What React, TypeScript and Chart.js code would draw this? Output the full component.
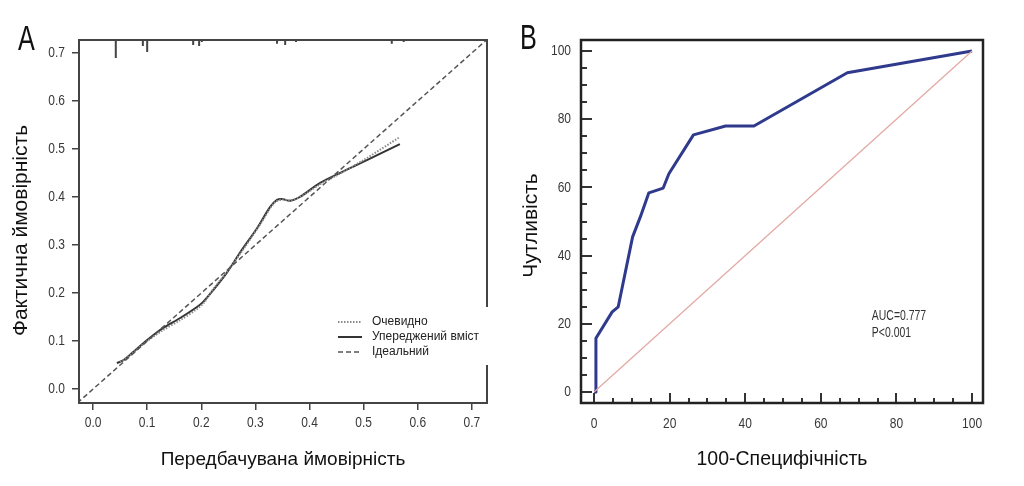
import React, { useEffect, useRef } from "react";
import { Chart, registerables } from "chart.js";

Chart.register(...registerables);

// ---------- Panel A: calibration ----------
const calibTicks = [0, 0.1, 0.2, 0.3, 0.4, 0.5, 0.6, 0.7];
const idealX = [-0.04, 0.74];
const idealY = [-0.04, 0.74];
const apparentX = [0.05, 0.07, 0.1, 0.13, 0.16, 0.19, 0.205, 0.22, 0.25, 0.28, 0.31, 0.335, 0.35, 0.365, 0.39, 0.42, 0.45, 0.5, 0.567];
const apparentY = [0.056, 0.072, 0.1, 0.123, 0.143, 0.165, 0.18, 0.205, 0.248, 0.295, 0.345, 0.388, 0.395, 0.393, 0.405, 0.427, 0.445, 0.477, 0.525];
const correctedX = [0.044, 0.056, 0.068, 0.1, 0.129, 0.161, 0.192, 0.203, 0.222, 0.247, 0.272, 0.303, 0.327, 0.34, 0.349, 0.364, 0.382, 0.419, 0.475, 0.506, 0.567];
const correctedY = [0.054, 0.06, 0.071, 0.102, 0.127, 0.148, 0.171, 0.181, 0.206, 0.242, 0.285, 0.335, 0.379, 0.394, 0.396, 0.392, 0.4, 0.429, 0.46, 0.477, 0.51];
const rugX = [0.042, 0.092, 0.1, 0.185, 0.196, 0.201, 0.34, 0.355, 0.375, 0.552, 0.574];
const rugHeight = [0.0375, 0.0125, 0.025, 0.0104, 0.0125, 0.004, 0.008, 0.0104, 0.004, 0.008, 0.004];
const calibLegend = ["Очевидно", "Упереджений вміст", "Ідеальний"];
const calibTitles = ["Передбачувана ймовірність", "Фактична ймовірність"];

// ---------- Panel B: ROC ----------
const rocTicks = [0, 5, 10, 15, 20, 25, 30, 35, 40, 45, 50, 55, 60, 65, 70, 75, 80, 85, 90, 95, 100];
const rocFpr = [0, 0.4, 0.5, 4.8, 6.4, 10.2, 12.3, 14.5, 18.3, 19.8, 26.3, 34.8, 42.3, 67, 100];
const rocTpr = [0, 0, 15.8, 23.5, 25, 45.5, 51.5, 58.4, 59.8, 64, 75.4, 78, 78, 93.6, 100];
const refX = [0, 100];
const refY = [0, 100];
const aucText = ["AUC=0.777", "P<0.001"];
const rocTitles = ["100-Специфічність", "Чутливість"];

const SANS = "'Liberation Sans', Arial, sans-serif";

const zip = (xs: number[], ys: number[]) => xs.map((x, i) => ({ x, y: ys[i] }));

function narrowText(ctx: CanvasRenderingContext2D, text: string, x: number, y: number, align: CanvasTextAlign, size: number, color: string, sx = 0.8) {
  ctx.save();
  ctx.translate(x, y);
  ctx.scale(sx, 1);
  ctx.font = `${size}px ${SANS}`;
  ctx.fillStyle = color;
  ctx.textAlign = align;
  ctx.textBaseline = "middle";
  ctx.fillText(text, 0, 0);
  ctx.restore();
}

function rotatedTitle(ctx: CanvasRenderingContext2D, text: string, x: number, y: number, size: number) {
  ctx.save();
  ctx.translate(x, y);
  ctx.rotate(-Math.PI / 2);
  ctx.font = `${size}px ${SANS}`;
  ctx.fillStyle = "#111";
  ctx.textAlign = "center";
  ctx.textBaseline = "middle";
  ctx.fillText(text, 0, 0);
  ctx.restore();
}

function drawTickLabels(chart: any, fmt: (v: number) => string, xOff: number, yOff: number) {
  const { ctx, chartArea, scales } = chart;
  scales.x.ticks.forEach((t: any) => {
    const s = fmt(t.value);
    if (s) narrowText(ctx, s, scales.x.getPixelForValue(t.value), chartArea.bottom + xOff, "center", 15, "#383838");
  });
  scales.y.ticks.forEach((t: any) => {
    const s = fmt(t.value);
    if (s) narrowText(ctx, s, chartArea.left - yOff, scales.y.getPixelForValue(t.value), "right", 15, "#383838");
  });
}

const fmtCalib = (v: number) => v.toFixed(1);
const fmtRoc = (v: number) => (v % 20 === 0 ? String(v) : "");

const calibBoxPlugin = {
  id: "calibBox",
  afterDatasetsDraw(chart: any) {
    const { ctx, chartArea } = chart;
    ctx.save();
    ctx.strokeStyle = "#444";
    ctx.lineWidth = 2;
    ctx.strokeRect(chartArea.left, chartArea.top, chartArea.right - chartArea.left, chartArea.bottom - chartArea.top);
    ctx.restore();
  },
  afterDraw(chart: any) {
    const { ctx, chartArea } = chart;
    drawTickLabels(chart, fmtCalib, 20, 14);
    rotatedTitle(ctx, calibTitles[1], 21, (chartArea.top + chartArea.bottom) / 2 + 9, 21);
    const right = chartArea.right;
    const boxL = right - 158;
    const boxT = chartArea.bottom - 96;
    ctx.save();
    ctx.fillStyle = "#fff";
    ctx.fillRect(boxL, boxT, 164, 58);
    const order = [1, 2, 0];
    order.forEach((di, row) => {
      const ds = chart.data.datasets[di];
      const y = boxT + 15 + row * 15;
      ctx.beginPath();
      ctx.setLineDash(ds.borderDash || []);
      ctx.strokeStyle = ds.borderColor;
      ctx.lineWidth = ds.borderWidth;
      ctx.moveTo(boxL + 9, y);
      ctx.lineTo(boxL + 33, y);
      ctx.stroke();
      ctx.setLineDash([]);
      ctx.fillStyle = "#222";
      ctx.font = `12px ${SANS}`;
      ctx.textBaseline = "middle";
      ctx.fillText(ds.label, boxL + 43, y);
    });
    ctx.restore();
  },
};

const rocPlugin = {
  id: "rocDecor",
  afterDraw(chart: any) {
    const { ctx, chartArea, scales } = chart;
    ctx.save();
    ctx.strokeStyle = "#333";
    ctx.lineWidth = 2;
    const xs = scales.x;
    const ys = scales.y;
    xs.ticks.forEach((t: any) => {
      const px = Math.round(xs.getPixelForValue(t.value));
      const len = t.value % 20 === 0 ? 10 : 5;
      ctx.beginPath();
      ctx.moveTo(px, chartArea.bottom);
      ctx.lineTo(px, chartArea.bottom - len);
      ctx.stroke();
    });
    ys.ticks.forEach((t: any) => {
      const py = Math.round(ys.getPixelForValue(t.value));
      const len = t.value % 20 === 0 ? 11 : 6;
      ctx.beginPath();
      ctx.moveTo(chartArea.left, py);
      ctx.lineTo(chartArea.left + len, py);
      ctx.stroke();
    });
    ctx.strokeStyle = "#222";
    ctx.lineWidth = 2.5;
    ctx.strokeRect(chartArea.left, chartArea.top, chartArea.right - chartArea.left, chartArea.bottom - chartArea.top);
    ctx.restore();
    drawTickLabels(chart, fmtRoc, 21, 10);
    rotatedTitle(ctx, rocTitles[1], 19, (chartArea.top + chartArea.bottom) / 2 + 4, 21);
    const tx = xs.getPixelForValue(73.5);
    narrowText(ctx, aucText[0], tx, ys.getPixelForValue(22.2), "left", 14.5, "#333", 0.72);
    narrowText(ctx, aucText[1], tx, ys.getPixelForValue(17.2), "left", 14.5, "#333", 0.72);
  },
};

function CalibChart() {
  const ref = useRef<HTMLCanvasElement>(null);
  useEffect(() => {
    const rugData: any[] = [];
    rugX.forEach((x, i) => {
      rugData.push({ x, y: 0.727 });
      rugData.push({ x, y: 0.727 - rugHeight[i] });
      rugData.push({ x, y: null });
    });
    const chart = new Chart(ref.current as HTMLCanvasElement, {
      type: "scatter",
      data: {
        datasets: [
          { label: calibLegend[2], data: zip(idealX, idealY), showLine: true, borderColor: "#555", borderWidth: 1.5, borderDash: [5, 3], pointRadius: 0 },
          { label: calibLegend[0], data: zip(apparentX, apparentY), showLine: true, borderColor: "#8a8a8a", borderWidth: 2, borderDash: [1.5, 1.5], pointRadius: 0, tension: 0.3 },
          { label: calibLegend[1], data: zip(correctedX, correctedY), showLine: true, borderColor: "#333", borderWidth: 2, pointRadius: 0, tension: 0.3 },
          { label: "rug", data: rugData, showLine: true, spanGaps: false, borderColor: "#444", borderWidth: 2, pointRadius: 0 },
        ],
      } as any,
      options: {
        animation: false,
        responsive: false,
        layout: { padding: { left: 0, right: 25, top: 40, bottom: 0 } },
        plugins: { legend: { display: false }, tooltip: { enabled: false } },
        scales: {
          x: {
            type: "linear",
            min: -0.026,
            max: 0.728,
            afterBuildTicks: (s: any) => { s.ticks = calibTicks.map((v) => ({ value: v })); },
            afterFit: (s: any) => { s.height = 83; },
            ticks: { display: false, callback: (v: any) => fmtCalib(Number(v)) },
            grid: { drawOnChartArea: false, drawTicks: true, tickLength: 7, color: "#444", lineWidth: 1.5 },
            border: { display: true, color: "#444", width: 2 },
            title: { display: true, text: calibTitles[0], font: { family: SANS, size: 19 }, color: "#111", padding: { top: 0, bottom: 15 } },
          },
          y: {
            type: "linear",
            min: -0.029,
            max: 0.727,
            afterBuildTicks: (s: any) => { s.ticks = calibTicks.map((v) => ({ value: v })); },
            afterFit: (s: any) => { s.width = 79; },
            ticks: { display: false, callback: (v: any) => fmtCalib(Number(v)) },
            grid: { drawOnChartArea: false, drawTicks: true, tickLength: 7, color: "#444", lineWidth: 1.5 },
            border: { display: true, color: "#444", width: 2 },
            title: { display: false },
          },
        },
      } as any,
      plugins: [calibBoxPlugin],
    });
    return () => chart.destroy();
  }, []);
  return <canvas ref={ref} width={512} height={486} style={{ width: 512, height: 486, display: "block" }} />;
}

function RocChart() {
  const ref = useRef<HTMLCanvasElement>(null);
  useEffect(() => {
    const chart = new Chart(ref.current as HTMLCanvasElement, {
      type: "scatter",
      data: {
        datasets: [
          { label: "ref", data: zip(refX, refY), showLine: true, borderColor: "#e2aaa4", borderWidth: 1.3, pointRadius: 0 },
          { label: "ROC", data: zip(rocFpr, rocTpr), showLine: true, borderColor: "#2f3a8c", borderWidth: 3, pointRadius: 0, borderJoinStyle: "round" },
        ],
      } as any,
      options: {
        animation: false,
        responsive: false,
        layout: { padding: { left: 0, right: 41, top: 40, bottom: 0 } },
        plugins: { legend: { display: false }, tooltip: { enabled: false } },
        scales: {
          x: {
            type: "linear",
            min: -3.45,
            max: 102.9,
            afterBuildTicks: (s: any) => { s.ticks = rocTicks.map((v) => ({ value: v })); },
            afterFit: (s: any) => { s.height = 83; },
            ticks: { display: false, callback: (v: any) => fmtRoc(Number(v)) },
            grid: { display: false, drawTicks: false },
            border: { display: false },
            title: { display: true, text: rocTitles[0], font: { family: SANS, size: 19.5 }, color: "#111", padding: { top: 0, bottom: 15 } },
          },
          y: {
            type: "linear",
            min: -3.2,
            max: 103.2,
            afterBuildTicks: (s: any) => { s.ticks = rocTicks.map((v) => ({ value: v })); },
            afterFit: (s: any) => { s.width = 69; },
            ticks: { display: false, callback: (v: any) => fmtRoc(Number(v)) },
            grid: { display: false, drawTicks: false },
            border: { display: false },
            title: { display: false },
          },
        },
      } as any,
      plugins: [rocPlugin],
    });
    return () => chart.destroy();
  }, []);
  return <canvas ref={ref} width={512} height={486} style={{ width: 512, height: 486, display: "block" }} />;
}

export default function App() {
  const letter: React.CSSProperties = {
    position: "absolute", fontFamily: SANS, fontSize: 35, lineHeight: "35px", color: "#111",
    transform: "scaleX(0.72)", transformOrigin: "left top",
  };
  return (
    <div style={{ position: "absolute", left: 0, top: 0, width: 1024, height: 486, background: "#fff", overflow: "hidden" }}>
      <div style={{ position: "absolute", left: 0, top: 0, width: 512, height: 486 }}><CalibChart /></div>
      <div style={{ position: "absolute", left: 512, top: 0, width: 512, height: 486 }}><RocChart /></div>
      <div style={{ ...letter, left: 18, top: 20 }}>A</div>
      <div style={{ ...letter, left: 520, top: 19 }}>B</div>
    </div>
  );
}
